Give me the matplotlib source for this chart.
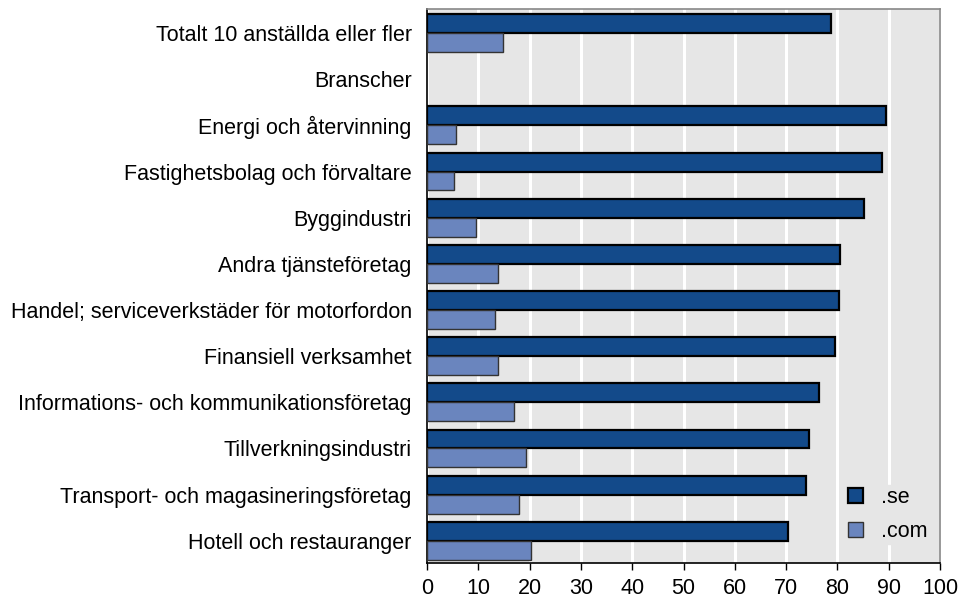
import matplotlib.pyplot as plt
import numpy as np

plt.rcParams['font.family'] = ['Liberation Sans', 'DejaVu Sans']

categories = ['Totalt 10 anställda eller fler', 'Branscher', 'Energi och återvinning',
              'Fastighetsbolag och förvaltare', 'Byggindustri', 'Andra tjänsteföretag',
              'Handel; serviceverkstäder för motorfordon', 'Finansiell verksamhet',
              'Informations- och kommunikationsföretag', 'Tillverkningsindustri',
              'Transport- och magasineringsföretag', 'Hotell och restauranger']
se_values = [78.7, np.nan, 89.5, 88.7, 85.1, 80.5, 80.4, 79.5, 76.4, 74.4, 73.9, 70.4]
com_values = [14.9, np.nan, 5.6, 5.3, 9.6, 13.9, 13.2, 13.8, 16.9, 19.2, 18.0, 20.2]

se_color = '#134a8a'
com_color = '#6a85be'
bg = '#e6e6e6'
h = 0.41
fs = 15.5

fig = plt.figure(figsize=(9.6, 6.04), dpi=100)
ax = fig.add_axes([0.4448, 0.0679, 0.5344, 0.9172])
ax.set_facecolor(bg)

y = np.arange(len(categories))
ax.barh(y - h / 2, se_values, height=h, color=se_color, edgecolor='black',
        linewidth=1.6, label='.se', zorder=3)
ax.barh(y + h / 2, com_values, height=h, color=com_color, edgecolor='#333333',
        linewidth=1.0, label='.com', zorder=3)

ax.set_xlim(0, 100)
ax.set_ylim(len(categories) - 0.52, -0.52)
ax.set_xticks(np.arange(0, 101, 10))
ax.set_yticks(y)
ax.set_yticklabels(categories, fontsize=fs)
ax.tick_params(axis='x', labelsize=fs, direction='out', length=5, width=1, pad=6)
ax.tick_params(axis='y', length=0, pad=11)
ax.xaxis.grid(True, color='white', linewidth=2.2, zorder=1)
ax.set_axisbelow(True)

for side in ['top', 'right']:
    ax.spines[side].set_color('#888888')
    ax.spines[side].set_linewidth(1.2)
for side in ['left', 'bottom']:
    ax.spines[side].set_color('black')
    ax.spines[side].set_linewidth(1.2)

leg = ax.legend(loc='lower right', bbox_to_anchor=(1.0, 0.015), frameon=True,
                fontsize=fs, handlelength=0.7, handleheight=0.7,
                handletextpad=0.8, labelspacing=0.6, borderpad=0.1)
leg.get_frame().set_facecolor(bg)
leg.get_frame().set_edgecolor(bg)
leg.get_frame().set_alpha(1)

fig.savefig('out.png', dpi=100)
